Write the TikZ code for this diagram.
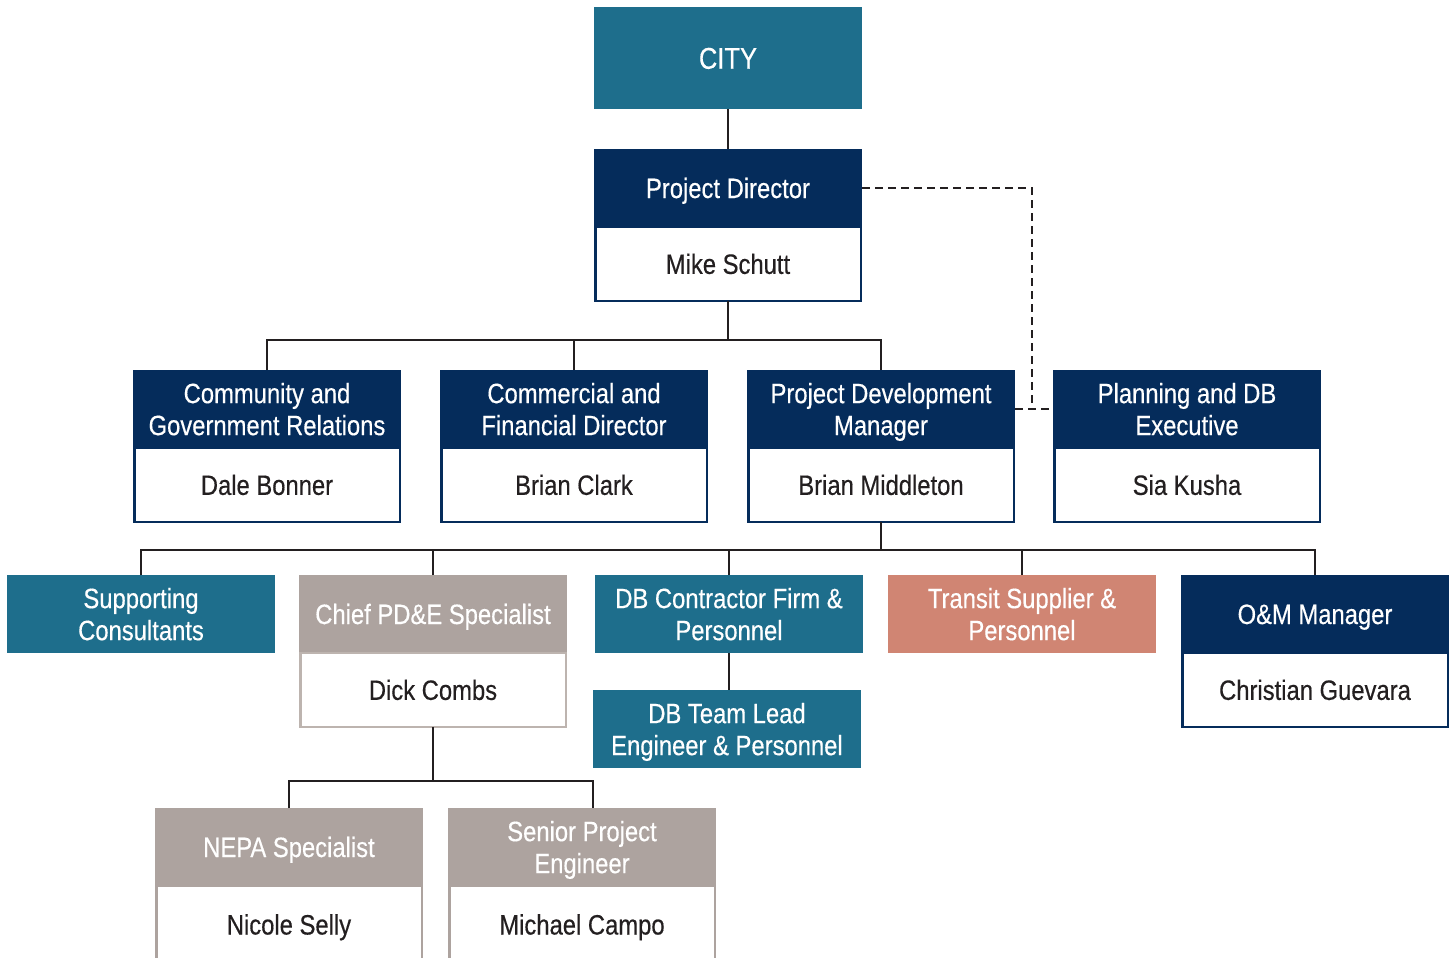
\documentclass[tikz,border=0pt]{standalone}
\usepackage{fontspec}
\setmainfont{Liberation Sans}[FakeStretch=0.85, FakeBold=0.4]
\definecolor{cTeal}{HTML}{1E6E8C}
\definecolor{cNavy}{HTML}{052C5B}
\definecolor{cTaupe}{HTML}{ADA39F}
\definecolor{cTaupeLt}{HTML}{BDB4AF}
\definecolor{cSalmon}{HTML}{D08573}
\definecolor{cInk}{HTML}{231F20}
\tikzset{
  hdr/.style={anchor=north west, inner sep=0pt, outer sep=0pt,
    minimum width=268pt, minimum height=78pt, text=white, align=center,
    text depth=0pt, font=\fontsize{28}{32}\selectfont},
  oneline/.style={text height=20pt, text depth=0pt},
  namebox/.style={anchor=north, inner sep=0pt, outer sep=0pt, fill=white,
    line width=2.5pt, minimum width=265.5pt, minimum height=73.75pt,
    text=cInk, text height=20pt, text depth=0pt,
    font=\fontsize{28}{32}\selectfont},
  conn/.style={draw=cInk, line width=2.8pt},
  dashconn/.style={draw=cInk, line width=2.2pt, dash pattern=on 8pt off 5pt},
}
\begin{document}
\begin{tikzpicture}[x=1pt,y=-1pt]
\useasboundingbox (0,0) rectangle (1452,958);
\clip (0,0) rectangle (1452,958);

% top of the chart
\node[hdr, fill=cTeal, minimum height=102pt, font=\fontsize{30}{34}\selectfont,
      text height=21.5pt, text depth=0pt] (city) at (594,7) {CITY};
\node[hdr, fill=cNavy, oneline] (pd) at (594,149) {Project Director};
\node[namebox, draw=cNavy] (pdn) at (pd.south) {Mike Schutt};

% second level
\node[hdr, fill=cNavy] (cgr) at (133,370) {Community and\\Government Relations};
\node[namebox, draw=cNavy] (cgrn) at (cgr.south) {Dale Bonner};
\node[hdr, fill=cNavy] (cfd) at (440,370) {Commercial and\\Financial Director};
\node[namebox, draw=cNavy] (cfdn) at (cfd.south) {Brian Clark};
\node[hdr, fill=cNavy] (pdm) at (747,370) {Project Development\\Manager};
\node[namebox, draw=cNavy] (pdmn) at (pdm.south) {Brian Middleton};
\node[hdr, fill=cNavy] (plan) at (1053,370) {Planning and DB\\Executive};
\node[namebox, draw=cNavy] (plann) at (plan.south) {Sia Kusha};

% third level
\node[hdr, fill=cTeal] (sc) at (7,575) {Supporting\\Consultants};
\node[hdr, fill=cTaupe, oneline] (chief) at (299,575) {Chief PD\&E Specialist};
\node[namebox, draw=cTaupeLt] (chiefn) at (chief.south) {Dick Combs};
\node[hdr, fill=cTeal] (dbc) at (595,575) {DB Contractor Firm \&\\Personnel};
\node[hdr, fill=cSalmon] (ts) at (888,575) {Transit Supplier \&\\Personnel};
\node[hdr, fill=cNavy, oneline] (om) at (1181,575) {O\&M Manager};
\node[namebox, draw=cNavy] (omn) at (om.south) {Christian Guevara};
\node[hdr, fill=cTeal] (dbt) at (593,690) {DB Team Lead\\Engineer \& Personnel};

% fourth level
\node[hdr, fill=cTaupe, oneline] (nepa) at (155,808) {NEPA Specialist};
\node[namebox, draw=cTaupe, minimum height=77pt] (nepan) at (nepa.south) {Nicole Selly};
\node[hdr, fill=cTaupe] (spe) at (448,808) {Senior Project\\Engineer};
\node[namebox, draw=cTaupe, minimum height=77pt] (spen) at (spe.south) {Michael Campo};

% solid reporting lines
\draw[conn] (city.south) -- (pd.north);

\coordinate (bus1) at (pdn.south |- 0,340);
\draw[conn] (pdn.south) -- (bus1);
\draw[conn] (cgr.north) |- (bus1) -| (pdm.north);
\draw[conn] (cfd.north) -- (cfd.north |- bus1);

\coordinate (bus2) at (pdmn.south |- 0,550);
\draw[conn] (pdmn.south) -- (bus2);
\draw[conn] (sc.north) |- (bus2) -| (om.north);
\draw[conn] (chief.north) -- (chief.north |- bus2);
\draw[conn] (dbc.north) -- (dbc.north |- bus2);
\draw[conn] (ts.north) -- (ts.north |- bus2);

\draw[conn] (dbc.south) -- (dbc.south |- dbt.north);

\coordinate (bus3) at (chiefn.south |- 0,781);
\draw[conn] (chiefn.south) -- (bus3);
\draw[conn] (nepa.north) |- (bus3) -| ([xshift=11pt]spe.north);

% dashed coordination line
\coordinate (dj) at (1032,409);
\draw[dashconn] (pd.east) -| (dj);
\draw[dashconn] (pdm.east) -- (plan.west);
\end{tikzpicture}
\end{document}
